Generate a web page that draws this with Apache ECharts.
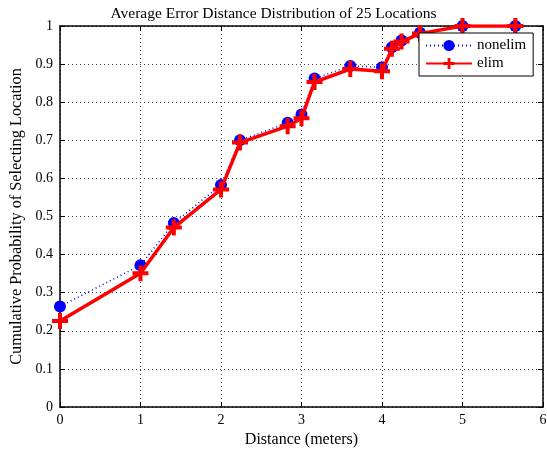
<!DOCTYPE html>
<html>
<head>
<meta charset="utf-8">
<script src="https://cdn.jsdelivr.net/npm/echarts@6/dist/echarts.min.js"></script>
<style>
  html, body { margin: 0; padding: 0; background: #fff; }
  #chart { width: 547px; height: 450px; }
</style>
</head>
<body>
<div id="chart"></div>
<script>
// distances (meters)
const distances = [0, 1, 1.414, 2, 2.236, 2.828, 3, 3.162, 3.606, 4, 4.123, 4.243, 4.472, 5, 5.657]
const nonelim = [0.264, 0.372, 0.483, 0.583, 0.700, 0.746, 0.768, 0.862, 0.895, 0.892, 0.944, 0.962, 0.982, 1.0, 1.0]
const elim = [0.226, 0.351, 0.471, 0.571, 0.694, 0.737, 0.758, 0.853, 0.887, 0.881, 0.940, 0.959, 0.980, 1.0, 1.0]

const font = 'Liberation Serif'
const plus = 'path://M0,3.75h3.75v-3.75h2.5v3.75h3.75v2.5h-3.75v3.75h-2.5v-3.75h-3.75z'

const pairs = arr => arr.map((v, i) => [distances[i], v])

const chart = echarts.init(document.getElementById('chart'))
const frameAxis = {
  axisLine: { show: true, onZero: false, lineStyle: { color: '#000', width: 1.5 } },
  axisTick: { show: true, inside: true, length: 5, lineStyle: { color: '#000' } },
  axisLabel: { show: false },
  splitLine: { show: false }
}
chart.setOption({
  animation: false,
  title: {
    text: 'Average Error Distance Distribution of 25 Locations',
    left: 'center',
    top: 1,
    textStyle: { fontFamily: font, fontSize: 15.5, fontWeight: 'normal', color: '#000' }
  },
  grid: { left: 60, right: 4, top: 26, bottom: 43, outerBoundsMode: 'none' },
  legend: {
    orient: 'vertical',
    left: 419,
    top: 33,
    itemWidth: 46,
    itemHeight: 14,
    itemGap: 3,
    padding: [5, 7, 5, 6],
    borderColor: '#000',
    borderWidth: 1,
    backgroundColor: '#fff',
    textStyle: { fontFamily: font, fontSize: 15, color: '#000' },
    data: ['nonelim', 'elim']
  },
  xAxis: [
    {
      type: 'value',
      min: 0,
      max: 6,
      interval: 1,
      name: 'Distance (meters)',
      nameLocation: 'middle',
      nameGap: 22,
      nameTextStyle: { fontFamily: font, fontSize: 16, color: '#000' },
      axisLine: { show: true, onZero: false, lineStyle: { color: '#000', width: 1.5 } },
      axisTick: { show: true, inside: true, length: 5, lineStyle: { color: '#000' } },
      axisLabel: { fontFamily: font, fontSize: 14, color: '#000', margin: 6 },
      splitLine: { show: true, lineStyle: { color: '#444', type: [1, 3], width: 1 } }
    },
    Object.assign({ type: 'value', position: 'top', min: 0, max: 6, interval: 1 }, frameAxis)
  ],
  yAxis: [
    {
      type: 'value',
      min: 0,
      max: 1,
      interval: 0.1,
      name: 'Cumulative Probability of Selecting Location',
      nameLocation: 'middle',
      nameGap: 31,
      nameTextStyle: { fontFamily: font, fontSize: 16.3, color: '#000' },
      axisLine: { show: true, onZero: false, lineStyle: { color: '#000', width: 1.5 } },
      axisTick: { show: true, inside: true, length: 5, lineStyle: { color: '#000' } },
      axisLabel: { fontFamily: font, fontSize: 14, color: '#000', margin: 7 },
      splitLine: { show: true, lineStyle: { color: '#444', type: [1, 3], width: 1 } }
    },
    Object.assign({ type: 'value', position: 'right', min: 0, max: 1, interval: 0.1 }, frameAxis)
  ],
  series: [
    {
      name: 'nonelim',
      type: 'line',
      data: pairs(nonelim),
      symbol: 'circle',
      symbolSize: 12,
      itemStyle: { color: '#0000ff' },
      lineStyle: { color: '#0000ff', width: 1.5, type: [1, 3] },
      z: 2
    },
    {
      name: 'elim',
      type: 'line',
      data: pairs(elim),
      symbol: plus,
      symbolSize: 16,
      itemStyle: { color: '#ff0000' },
      lineStyle: { color: '#ff0000', width: 3.5 },
      z: 3
    }
  ]
})
</script>
</body>
</html>
